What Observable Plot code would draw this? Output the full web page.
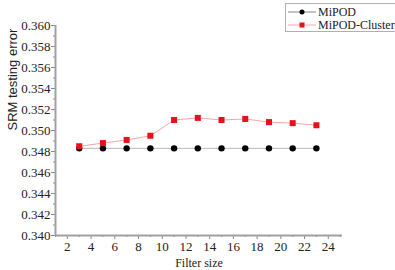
<!DOCTYPE html>
<html><head><meta charset="utf-8">
<script src="https://cdn.jsdelivr.net/npm/d3@7"></script>
<script src="https://cdn.jsdelivr.net/npm/@observablehq/plot@0.6"></script>
<style>
body{margin:0;background:#fff;font-family:'Liberation Serif','Times New Roman',serif;}
#wrap{position:relative;width:395px;height:270px;}
#legend{position:absolute;left:285px;top:3px;width:118px;height:27px;border:1px solid #b0b0b0;background:#fff;font-family:'Liberation Serif','Times New Roman',serif;font-size:12px;color:#222;}
#legend .row{position:absolute;left:0;height:12px;line-height:12px;white-space:nowrap;}
#legend svg{position:absolute;left:1px;top:0;}
#legend span{position:absolute;left:32px;top:0;}
</style></head>
<body><div id="wrap"><div id="chart"></div><div id="legend"></div></div>
<script>
const filterSizes = [3,5,7,9,11,13,15,17,19,21,23];
const mipod = [0.3483,0.3483,0.3483,0.3483,0.3483,0.3483,0.3483,0.3483,0.3483,0.3483,0.3483];
const mipodCluster = [0.3485,0.3488,0.3491,0.3495,0.3510,0.3512,0.3510,0.3511,0.3508,0.3507,0.3505];
const yTicks = [0.340,0.342,0.344,0.346,0.348,0.350,0.352,0.354,0.356,0.358,0.360];
const yMinor = [0.341,0.343,0.345,0.347,0.349,0.351,0.353,0.355,0.357,0.359];
const xTicks = [2,4,6,8,10,12,14,16,18,20,22,24];
const xMinor = [1,3,5,7,9,11,13,15,17,19,21,23,25];
const seriesNames = ["MiPOD","MiPOD-Cluster"];

const dataA = filterSizes.map((x,i)=>({x, y: mipod[i]}));
const dataB = filterSizes.map((x,i)=>({x, y: mipodCluster[i]}));

const serif = "Liberation Serif, Times New Roman, serif";
const sans = "Liberation Sans, Arial, sans-serif";
const axisCol = "#a0a0a0";
const chart = Plot.plot({
  width: 395, height: 270,
  marginLeft: 55, marginRight: 53, marginTop: 25, marginBottom: 35,
  style: {fontFamily: serif, fontSize: "13px", color: "#222", background: "#fff"},
  x: {domain: [1, 25.2]},
  y: {domain: [0.340, 0.360]},
  marks: [
    Plot.axisY({ticks: yTicks, tickSize: 4, tickPadding: 1, tickFormat: d3.format(".3f"), stroke: "#888", label: null, fontSize: 13, fontFamily: serif, fill: "#222"}),
    Plot.axisY({ticks: yMinor, tickSize: 2, tickFormat: () => "", stroke: "#888", label: null}),
    Plot.axisX({ticks: xTicks, tickSize: 4, tickPadding: 2, stroke: "#888", label: null, fontSize: 13, fontFamily: serif, fill: "#222"}),
    Plot.axisX({ticks: xMinor, tickSize: 2, tickFormat: () => "", stroke: "#888", label: null}),
    Plot.ruleX([1], {stroke: axisCol, strokeWidth: 2}),
    Plot.ruleY([0.340], {stroke: axisCol, strokeWidth: 2}),
    Plot.text(["SRM testing error"], {frameAnchor: "left", rotate: -90, dx: -43, lineAnchor: "middle", fontSize: 13, fontFamily: sans, fill: "#222"}),
    Plot.text(["Filter size"], {frameAnchor: "bottom", dy: 28, lineAnchor: "middle", fontSize: 12, fontFamily: serif, fill: "#222"}),
    Plot.line(dataA, {x: "x", y: "y", stroke: "#b8b8b8", strokeWidth: 1}),
    Plot.dot(dataA, {x: "x", y: "y", r: 3.2, fill: "#000", stroke: "none"}),
    Plot.line(dataB, {x: "x", y: "y", stroke: "#f4a6a6", strokeWidth: 1}),
    Plot.dot(dataB, {x: "x", y: "y", symbol: "square", r: 3.4, fill: "#e8101c", stroke: "none"})
  ]
});
document.getElementById("chart").appendChild(chart);

const legend = document.getElementById("legend");
const styles = [
  {line: "#888", fill: "#000", shape: "circle"},
  {line: "#f4a6a6", fill: "#e8101c", shape: "square"}
];
seriesNames.forEach((name, i) => {
  const row = document.createElement("div");
  row.className = "row";
  row.style.top = (2 + i * 13) + "px";
  const s = styles[i];
  const mk = s.shape === "circle"
    ? `<circle cx="15" cy="6" r="2.5" fill="${s.fill}"/>`
    : `<rect x="12.5" y="3.5" width="5" height="5" fill="${s.fill}"/>`;
  row.innerHTML = `<svg width="30" height="12"><line x1="1" x2="29" y1="6" y2="6" stroke="${s.line}" stroke-width="1"/>${mk}</svg><span>${name}</span>`;
  legend.appendChild(row);
});
</script></body></html>
